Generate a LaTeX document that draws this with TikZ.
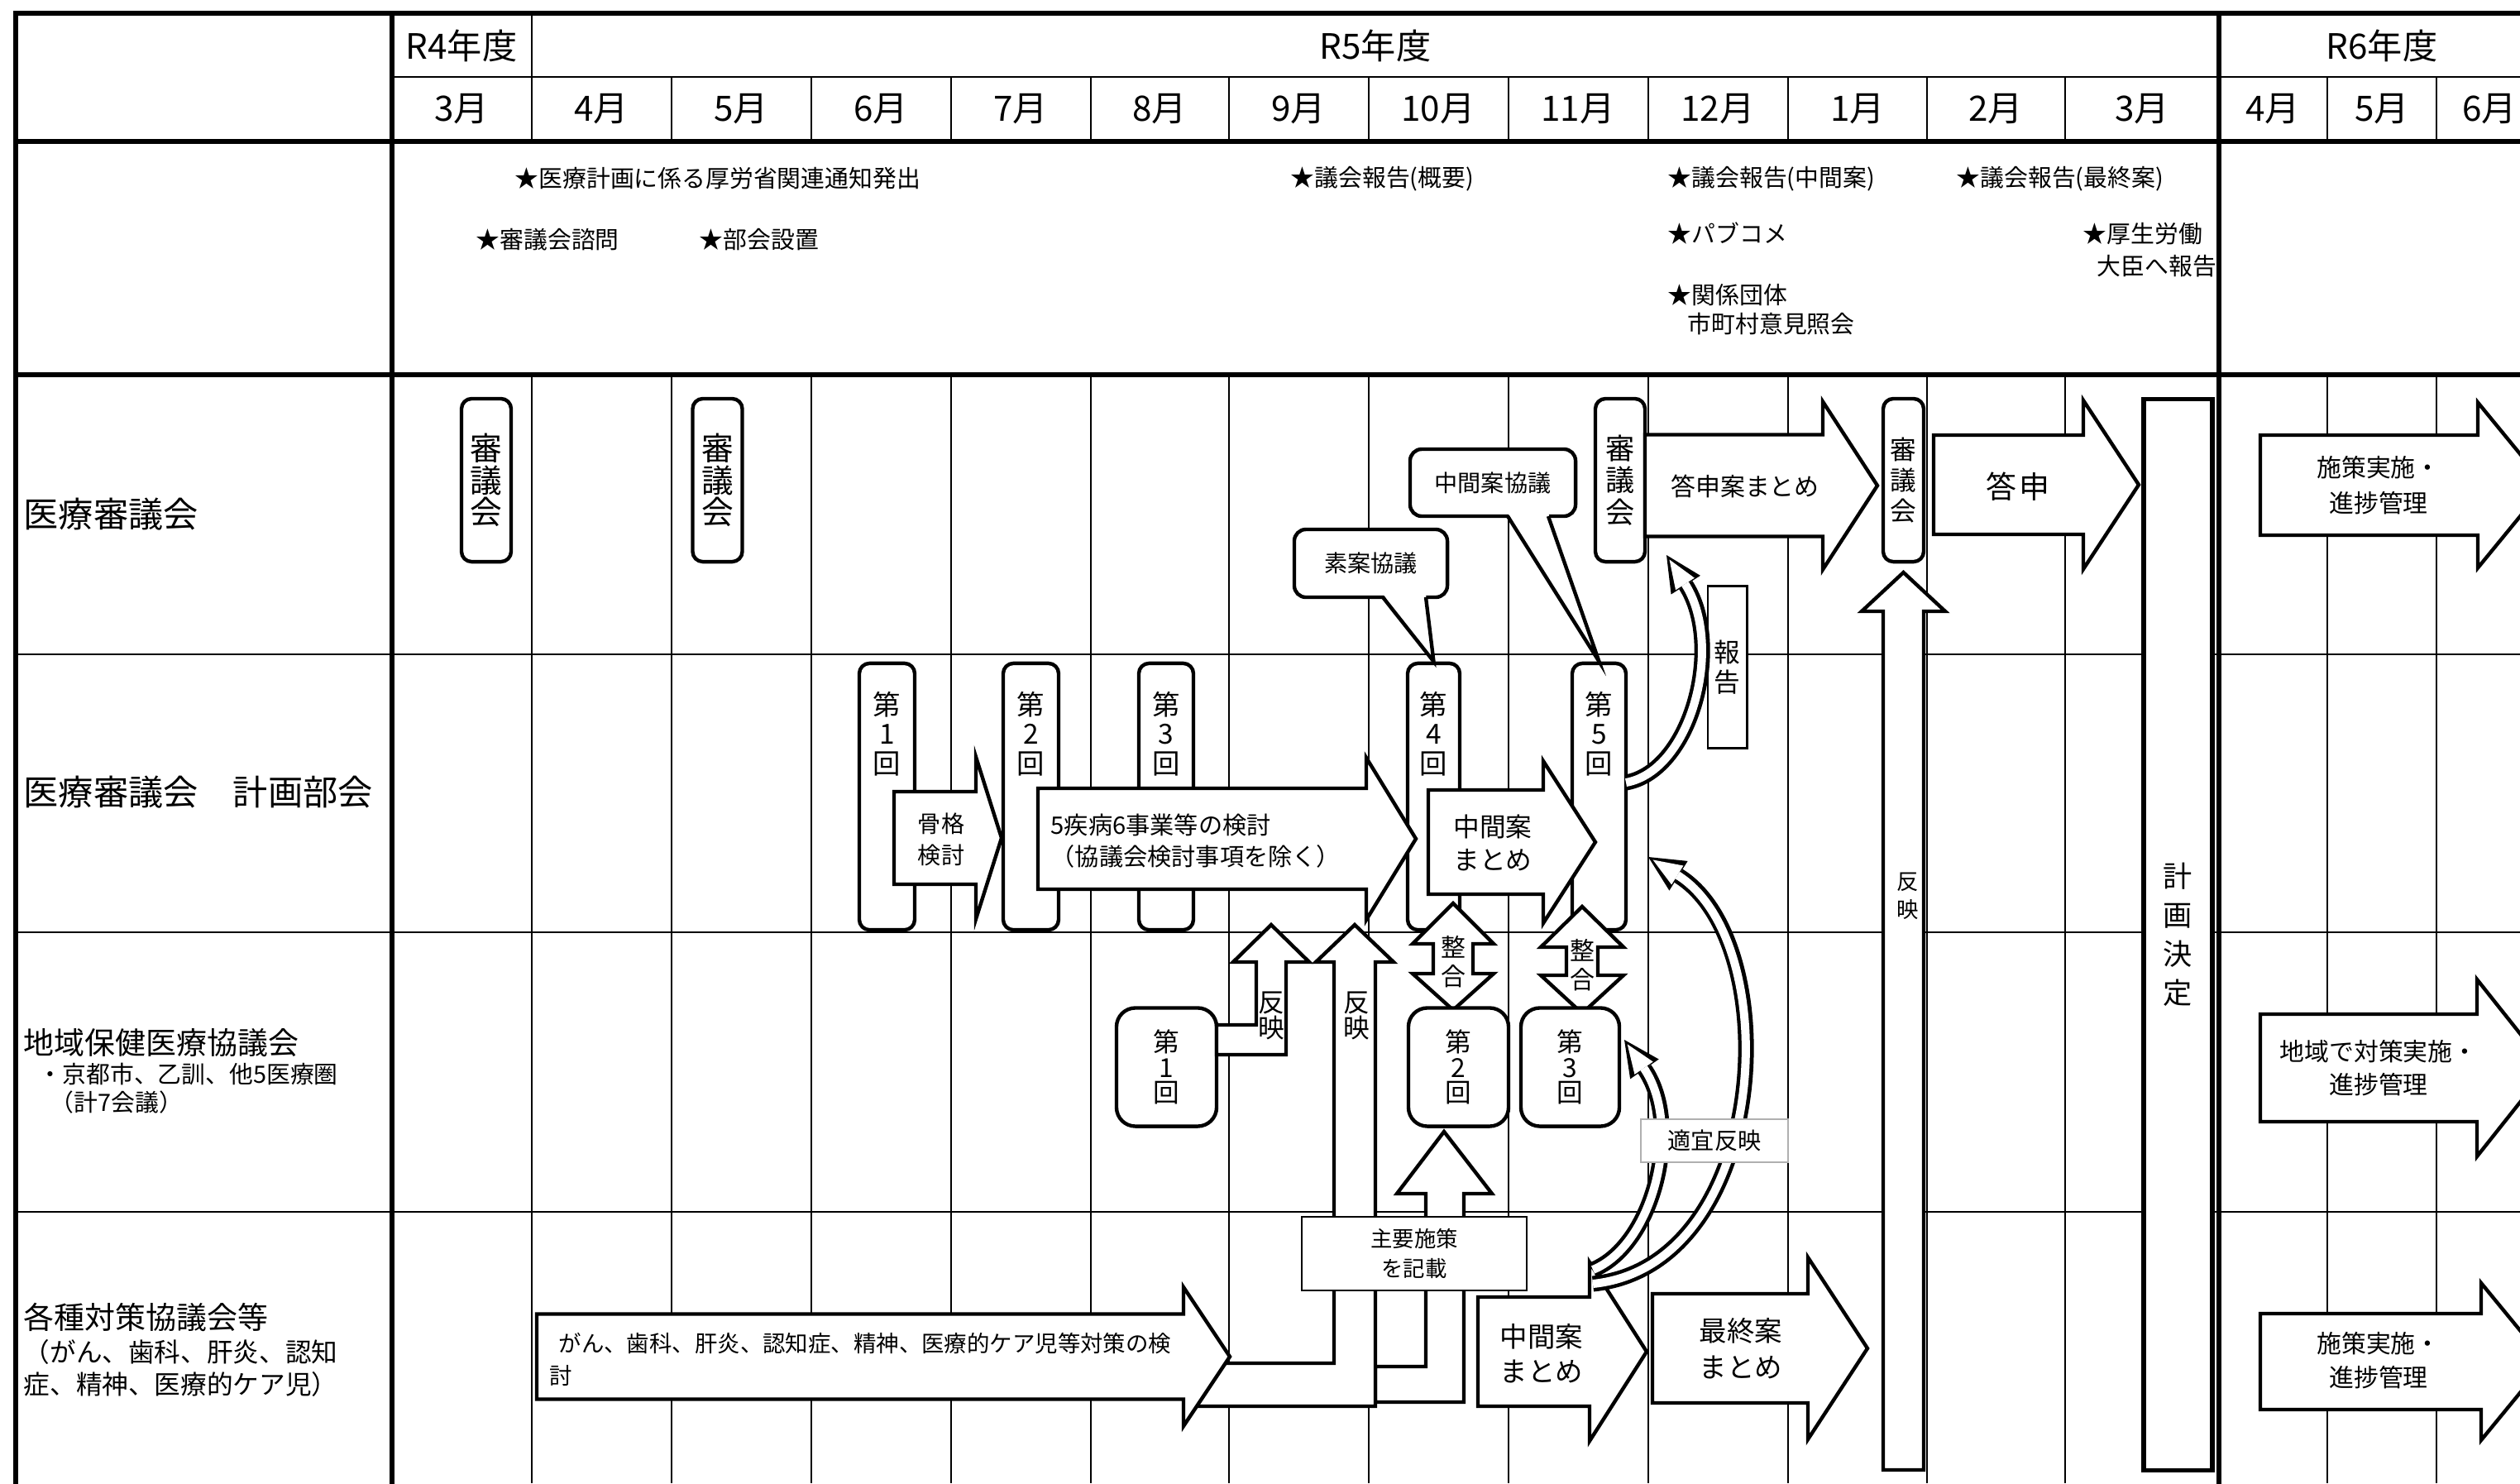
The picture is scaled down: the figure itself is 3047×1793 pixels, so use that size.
\documentclass[tikz,border=0pt]{standalone}
\usepackage{fontspec}
\setmainfont{Noto Sans CJK JP}
\usepackage{tikz}
\usetikzlibrary{arrows.meta,positioning}
\definecolor{ink}{HTML}{000000}
\definecolor{paper}{HTML}{FFFFFF}
\definecolor{softrule}{HTML}{B0B0B0}
\newcommand{\fsz}[2]{\fontsize{#1pt}{#2pt}\selectfont\lineskiplimit=-20pt\relax}
\newcommand{\rightblock}[6]{\draw[shapeline] (#1,#4-#5) -- (#2,#4-#5) -- (#2,#4-#6) -- (#3,#4) -- (#2,#4+#6) -- (#2,#4+#5) -- (#1,#4+#5) -- cycle;}
\newcommand{\upblock}[6]{\draw[shapeline] (#1-#2,#4) -- (#1-#2,#5) -- (#1-#3,#5) -- (#1,#6) -- (#1+#3,#5) -- (#1+#2,#5) -- (#1+#2,#4) -- cycle;}
\newcommand{\updownblock}[7]{\draw[shapeline] (#1,#4) -- (#1+#3,#5) -- (#1+#2,#5) -- (#1+#2,#6) -- (#1+#3,#6) -- (#1,#7) -- (#1-#3,#6) -- (#1-#2,#6) -- (#1-#2,#5) -- (#1-#3,#5) -- cycle;}
\newcommand{\hollowcurve}[4]{%
  \draw[draw=ink,line width=0.19cm,-{Triangle[length=0.43cm,width=0.42cm,line width=0pt]}] #1 .. controls #2 and #3 .. #4;
  \draw[draw=paper,line width=0.1cm,shorten >=0.065cm,-{Triangle[length=0.35cm,width=0.27cm,line width=0pt]}] #1 .. controls #2 and #3 .. #4;}
\tikzset{
  gridthin/.style={draw=ink,line width=0.7pt},
  gridthick/.style={draw=ink,line width=1.5pt,line cap=rect},
  shapeline/.style={draw=ink,fill=paper,line width=1.25pt,line join=miter},
  meetbox/.style={shapeline,rounded corners=3.5pt,inner sep=0pt,align=center},
  roundbox/.style={shapeline,rounded corners=6.5pt,inner sep=0pt,align=center,font=\fsz{9}{8.6}},
  planbox/.style={shapeline,line width=1.6pt,inner sep=0pt,align=center,font=\fsz{10}{13.4}},
  notebox/.style={draw=ink,fill=paper,line width=0.6pt,inner sep=0pt,align=center},
  calloutbox/.style={shapeline,rounded corners=4pt,inner sep=0pt,font=\fsz{8}{10}},
  headtxt/.style={inner sep=0pt,font=\fsz{12}{14}},
  rowtxt/.style={anchor=west,inner sep=0pt},
  notetxt/.style={anchor=west,inner sep=0pt,font=\fsz{8.2}{10}},
  vtxt/.style={inner sep=0pt,align=center,font=\fsz{9.5}{10}},
  arrowtxt/.style={inner sep=0pt,align=center}
}

\begin{document}
\begin{tikzpicture}[x=0.01cm,y=-0.01cm,node distance=0.3cm]
\useasboundingbox (0,0) rectangle (3047,1793);
\clip (0,0) rectangle (3047,1793);
\fill[paper] (0,0) rectangle (3047,1793);

\draw[gridthin] (474,93) -- (3047,93) (19,791) -- (3047,791) (19,1127) -- (3047,1127) (19,1465) -- (3047,1465);
\draw[gridthin] (643,16) -- (643,93);
\foreach \x in {643,812,981,1150,1319,1486,1655,1824,1993,2162,2330,2497,2814,2946}
  \draw[gridthin] (\x,93) -- (\x,171) (\x,453) -- (\x,1793);
\draw[gridthick] (19,16) -- (3047,16) (19,171) -- (3047,171) (19,453) -- (3047,453);
\draw[gridthick] (19,16) -- (19,1793) (474,16) -- (474,1793) (2683,16) -- (2683,1793);

\node[headtxt] (yr4) at (558,55) {R4年度};
\node[headtxt] (yr5) at (1663,55) {R5年度};
\node[headtxt] (yr6) at (2880,55) {R6年度};
\foreach \x/\m [count=\i] in {558/3,727/4,896/5,1065/6,1234/7,1402/8,1570/9,1739/10,1908/11,2077/12,2246/1,2413/2,2590/3,2748/4,2880/5,3010/6}
  \node[headtxt] (mon\i) at (\x,132) {\m 月};

\node[rowtxt,font=\fsz{12}{14}] (lab1) at (28,622) {医療審議会};
\node[rowtxt,font=\fsz{12}{14}] (lab2) at (28,958) {医療審議会　計画部会};
\node[rowtxt,font=\fsz{10.5}{12}] (lab3) at (28,1261) {地域保健医療協議会};
\node[rowtxt,font=\fsz{8.2}{10}] (lab3a) at (46,1298) {・京都市、乙訓、他5医療圏};
\node[rowtxt,font=\fsz{8.2}{10}] (lab3b) at (60,1333) {（計7会議）};
\node[rowtxt,font=\fsz{10.5}{12}] (lab4) at (28,1592) {各種対策協議会等};
\node[rowtxt,font=\fsz{9}{11}] (lab4a) at (28,1634) {（がん、歯科、肝炎、認知};
\node[rowtxt,font=\fsz{9}{11}] (lab4b) at (28,1673) {症、精神、医療的ケア児）};

\node[notetxt] (n1) at (622,216) {★医療計画に係る厚労省関連通知発出};
\node[notetxt] (n2) at (575,290) {★審議会諮問};
\node[notetxt] (n3) at (845,290) {★部会設置};
\node[notetxt] (n4) at (1560,216) {★議会報告(概要)};
\node[notetxt] (n5) at (2016,216) {★議会報告(中間案)};
\node[notetxt] (n6) at (2016,282) {★パブコメ};
\node[notetxt] (n7) at (2016,357) {★関係団体};
\node[notetxt] (n8) at (2040,392) {市町村意見照会};
\node[notetxt] (n9) at (2365,216) {★議会報告(最終案)};
\node[notetxt] (n10) at (2518,283) {★厚生労働};
\node[notetxt] (n11) at (2535,322) {大臣へ報告};

\node[meetbox,minimum width=0.6cm,minimum height=1.97cm,font=\fsz{11}{11}] (shin1) at (588,580.5) {審\\議\\会};
\node[meetbox,minimum width=0.6cm,minimum height=1.97cm,font=\fsz{11}{11}] (shin2) at (867.5,580.5) {審\\議\\会};
\node[meetbox,minimum width=0.6cm,minimum height=1.97cm,font=\fsz{10}{11}] (shin3) at (1959,580.5) {審\\議\\会};
\node[meetbox,minimum width=0.49cm,minimum height=1.97cm,font=\fsz{9}{10.5}] (shin4) at (2301.5,580.5) {審\\議\\会};
\node[planbox,minimum width=0.83cm,minimum height=12.94cm] (kettei) at (2633.5,1130) {計\\画\\決\\定};
\upblock{2301.5}{24.5}{50.5}{1777}{739}{692}
\node[arrowtxt,font=\fsz{7.5}{9.7}] (hanei3) at (2307,1083) {反\\映};

\rightblock{1989}{2204}{2270}{587}{61.5}{101.5}
\node[arrowtxt,font=\fsz{8.5}{10}] (toshinan) at (2110,588) {答申案まとめ};
\rightblock{2338}{2519}{2586}{586}{60}{102}
\node[arrowtxt,font=\fsz{10.5}{12}] (toshin) at (2440,588) {答\hspace{0.1em}申};

\rightblock{2733}{2996}{3078}{586.5}{60.5}{100}
\node[arrowtxt,font=\fsz{8.5}{12.2}] (jisshi1) at (2876,587) {施策実施・\\進捗管理};
\rightblock{2733}{2995}{3080}{1291}{65}{107}
\node[arrowtxt,font=\fsz{8.5}{11.4}] (jisshi2) at (2876,1291) {地域で対策実施・\\進捗管理};
\rightblock{2733}{3000}{3078}{1646}{58}{95}
\node[arrowtxt,font=\fsz{8.5}{11.7}] (jisshi3) at (2876,1645) {施策実施・\\進捗管理};

\node[notebox,line width=0.85pt,minimum width=0.47cm,minimum height=1.95cm,font=\fsz{9}{10.2}] (hokoku) at (2088.5,806.5) {報\\告};

\foreach \n/\x/\w in {1/1072.5/0.67,2/1246.5/0.67,3/1410/0.66,4/1733.5/0.63,5/1933.5/0.65}{
  \node[meetbox,minimum width=\w cm,minimum height=3.22cm] (bu\n) at (\x,963) {};
  \node[vtxt,below=0.36cm of bu\n.north] (bu\n txt) {第\\\n\\回};
}

\node[calloutbox,minimum width=1.85cm,minimum height=0.82cm] (soan) at (1657.5,681) {素案協議};
\fill[paper] (1672,718) -- (bu4.north) -- (1724,718) -- cycle;
\draw[draw=ink,line width=1.25pt] (1672,722) -- (bu4.north) -- (1724,722);
\node[calloutbox,minimum width=2.0cm,minimum height=0.81cm] (chukankyo) at (1805,583.5) {中間案協議};
\fill[paper] (1823,620) -- (bu5.north) -- (1872,620) -- cycle;
\draw[draw=ink,line width=1.25pt] (1823,624) -- (bu5.north) -- (1872,624);

\rightblock{1081}{1180}{1211}{1013}{56}{98}
\node[arrowtxt,font=\fsz{8}{10.8}] (kokkaku) at (1138,1015) {骨格\\検討};
\rightblock{1255}{1652}{1712}{1014}{61}{98}
\node[arrowtxt,anchor=west,align=left,font=\fsz{8.3}{10.8}] (shippei) at (1270,1017) {5疾病6事業等の検討\\（協議会検討事項を除く）};
\rightblock{1727}{1866}{1929}{1018}{63}{98}
\node[arrowtxt,font=\fsz{9}{11.4}] (chukan2) at (1805,1019) {中間案\\まとめ};

\updownblock{1757}{24}{49}{1092}{1141}{1177}{1221}
\node[arrowtxt,font=\fsz{8.5}{10}] (seigo1) at (1757,1163) {整\\合};
\updownblock{1913}{19}{50}{1096}{1145}{1179}{1225}
\node[arrowtxt,font=\fsz{8.5}{10}] (seigo2) at (1913,1167) {整\\合};

\node[roundbox,minimum width=1.21cm,minimum height=1.43cm] (chiiki1) at (1410.5,1290) {第\\1\\回};
\node[roundbox,minimum width=1.21cm,minimum height=1.43cm] (chiiki2) at (1763.5,1290) {第\\2\\回};
\node[roundbox,minimum width=1.19cm,minimum height=1.43cm] (chiiki3) at (1898.5,1290) {第\\3\\回};

\draw[shapeline] (1471,1239) -- (1519,1239) -- (1519,1163) -- (1491,1163) -- (1537,1118) -- (1583,1163) -- (1555,1163) -- (1555,1275) -- (1471,1275) -- cycle;
\node[arrowtxt,font=\fsz{9}{8.8}] (hanei1) at (1537,1228) {反\\映};
\draw[shapeline] (1663,1652) -- (1724,1652) -- (1724,1443) -- (1689,1443) -- (1746,1368) -- (1804,1443) -- (1770,1443) -- (1770,1695) -- (1663,1695) -- cycle;
\draw[shapeline] (1445,1648) -- (1613,1648) -- (1613,1163) -- (1591,1163) -- (1638,1118) -- (1685,1163) -- (1663,1163) -- (1663,1700) -- (1445,1700) -- cycle;
\node[arrowtxt,font=\fsz{9}{8.8}] (hanei2) at (1640,1228) {反\\映};

\rightblock{649}{1431}{1487}{1640}{51.5}{84}
\node[arrowtxt,anchor=west,align=left,font=\fsz{7.8}{11.1}] (gan) at (664,1643) {\hspace{0.4em}がん、歯科、肝炎、認知症、精神、医療的ケア児等対策の検\\討};
\node[notebox,minimum width=2.72cm,minimum height=0.89cm,font=\fsz{7.5}{10}] (shuyo) at (1710,1515.5) {主要施策\\を記載};

\rightblock{1787}{1922}{1991}{1634}{66}{108}
\node[arrowtxt,font=\fsz{9.5}{12}] (chukan4) at (1864,1636) {中間案\\まとめ};
\rightblock{1998}{2186}{2258}{1630}{66}{110}
\node[arrowtxt,font=\fsz{9.5}{12.5}] (saishu) at (2105,1630) {最終案\\まとめ};

\coordinate (a0) at (1966,946);
\coordinate (a1) at (2015,671);
\coordinate (b0) at (1926,1535);
\coordinate (b1) at (1964,1257);
\coordinate (c0) at (1926,1552);
\coordinate (c1) at (1993,1036);
\hollowcurve{(a0)}{(2045,932)}{(2085,780)}{(a1)}
\hollowcurve{(b0)}{(2000,1505)}{(2035,1360)}{(b1)}
\hollowcurve{(c0)}{(2140,1530)}{(2160,1140)}{(c1)}

\node[notebox,draw=softrule,minimum width=1.78cm,minimum height=0.52cm,font=\fsz{8}{10}] (tekigi) at (2073,1379) {適宜反映};
\end{tikzpicture}
\end{document}
